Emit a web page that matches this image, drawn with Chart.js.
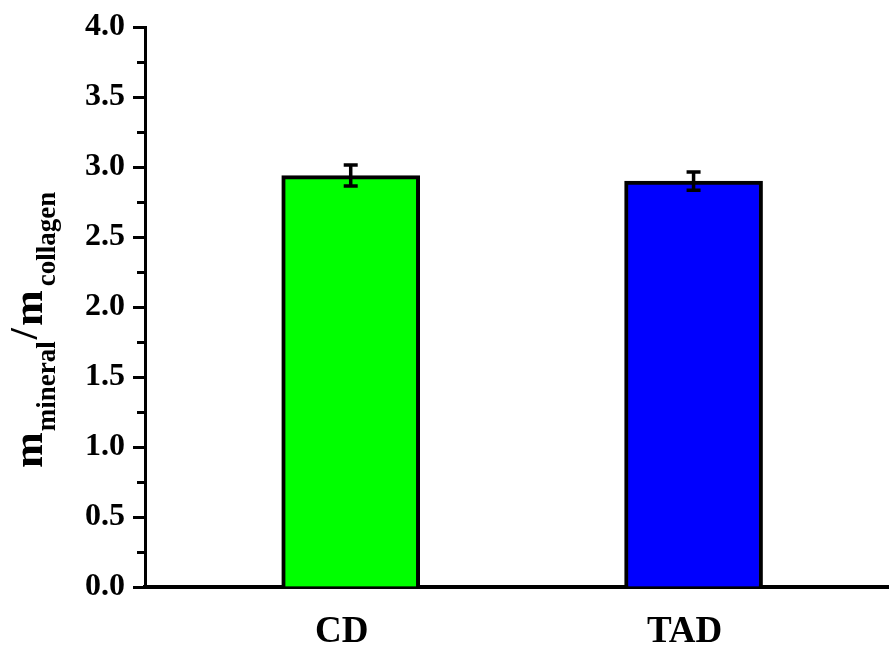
<!DOCTYPE html>
<html>
<head>
<meta charset="utf-8">
<script src="https://cdn.jsdelivr.net/npm/chart.js@4"></script>
<style>
  body { margin: 0; background: #fff; }
  #wrap { width: 889px; height: 648px; }
</style>
</head>
<body>
<div id="wrap"><canvas id="chart"></canvas></div>
<script>
// datos
const groups = ['CD', 'TAD'];
const positions = [1, 2];
const ratio = [2.94, 2.90];
const ratioErr = [0.075, 0.065];
const barColors = ['#00ff00', '#0000ff'];
const yTicks = [0, 0.5, 1, 1.5, 2, 2.5, 3, 3.5, 4];
const yMinorTicks = [0.25, 0.75, 1.25, 1.75, 2.25, 2.75, 3.25, 3.75];

const serif = '"Liberation Serif", "Times New Roman", serif';

/* barras de error */
const errorBars = {
  id: 'errorBars',
  afterDatasetsDraw(chart) {
    const ctx = chart.ctx;
    const x = chart.scales.x;
    const y = chart.scales.y;
    ctx.save();
    ctx.strokeStyle = '#000';
    ctx.lineWidth = 3.5;
    positions.forEach((p, i) => {
      const px = x.getPixelForValue(p);
      const top = y.getPixelForValue(ratio[i] + ratioErr[i]);
      const bot = y.getPixelForValue(ratio[i] - ratioErr[i]);
      ctx.beginPath();
      ctx.moveTo(px, top); ctx.lineTo(px, bot);
      ctx.moveTo(px - 7, top); ctx.lineTo(px + 7, top);
      ctx.moveTo(px - 7, bot); ctx.lineTo(px + 7, bot);
      ctx.stroke();
    });
    ctx.restore();
  }
};

/* ticks menores y titulo del eje y con subindices */
const extras = {
  id: 'extras',
  afterDraw(chart) {
    const ctx = chart.ctx;
    const y = chart.scales.y;
    const left = chart.chartArea.left;
    ctx.save();
    ctx.strokeStyle = '#000';
    ctx.lineWidth = 3;
    yMinorTicks.forEach((v) => {
      const py = Math.round(y.getPixelForValue(v)) + 0.5;
      ctx.beginPath();
      ctx.moveTo(left - 8, py);
      ctx.lineTo(left, py);
      ctx.stroke();
    });

    ctx.fillStyle = '#000';
    ctx.translate(42, 468);
    ctx.rotate(-Math.PI / 2);
    ctx.textBaseline = 'alphabetic';
    ctx.textAlign = 'left';
    const parts = [
      { t: 'm', size: 43, dy: 0, gap: 1 },
      { t: 'mineral', size: 27, dy: 13, gap: 2 },
      { t: '/', size: 40, dy: -5, gap: 2 },
      { t: 'm', size: 43, dy: 0, gap: 4 },
      { t: 'collagen', size: 27, dy: 13, gap: 0 }
    ];
    let cx = 0;
    parts.forEach((part) => {
      ctx.font = 'bold ' + part.size + 'px ' + serif;
      ctx.fillText(part.t, cx, part.dy);
      cx += ctx.measureText(part.t).width + part.gap;
    });
    ctx.restore();
  }
};

new Chart(document.getElementById('chart'), {
  type: 'bar',
  data: {
    datasets: [
      {
        data: positions.map((p, i) => ({ x: p, y: ratio[i] })),
        backgroundColor: barColors,
        borderColor: '#000',
        borderWidth: 4,
        barThickness: 138
      }
    ]
  },
  options: {
    responsive: true,
    maintainAspectRatio: false,
    animation: false,
    layout: { padding: { top: 24, left: 0, right: 0, bottom: 0 } },
    plugins: {
      legend: { display: false },
      tooltip: { enabled: false }
    },
    scales: {
      x: {
        type: 'linear',
        min: 0.4,
        max: 2.57,
        offset: false,
        afterBuildTicks: (scale) => {
          scale.ticks = positions.map((v) => ({ value: v }));
        },
        afterFit: (scale) => {
          scale.height = 61;
        },
        ticks: {
          callback: (v) => groups[positions.indexOf(v)],
          color: '#000',
          font: { family: serif, size: 37, weight: 'bold' },
          padding: 23,
          labelOffset: -9,
          maxRotation: 0
        },
        grid: { display: false, drawTicks: false },
        border: { display: true, color: '#000', width: 4 }
      },
      y: {
        min: 0,
        max: 4,
        afterBuildTicks: (scale) => {
          scale.ticks = yTicks.map((v) => ({ value: v }));
        },
        afterFit: (scale) => {
          scale.width = 145;
        },
        ticks: {
          callback: (v) => v.toFixed(1),
          color: '#000',
          font: { family: serif, size: 32, weight: 'bold' },
          padding: 8
        },
        grid: {
          drawOnChartArea: false,
          drawTicks: true,
          tickLength: 12,
          tickWidth: 3,
          tickColor: '#000'
        },
        border: { display: true, color: '#000', width: 3 }
      }
    }
  },
  plugins: [errorBars, extras]
});
</script>
</body>
</html>
